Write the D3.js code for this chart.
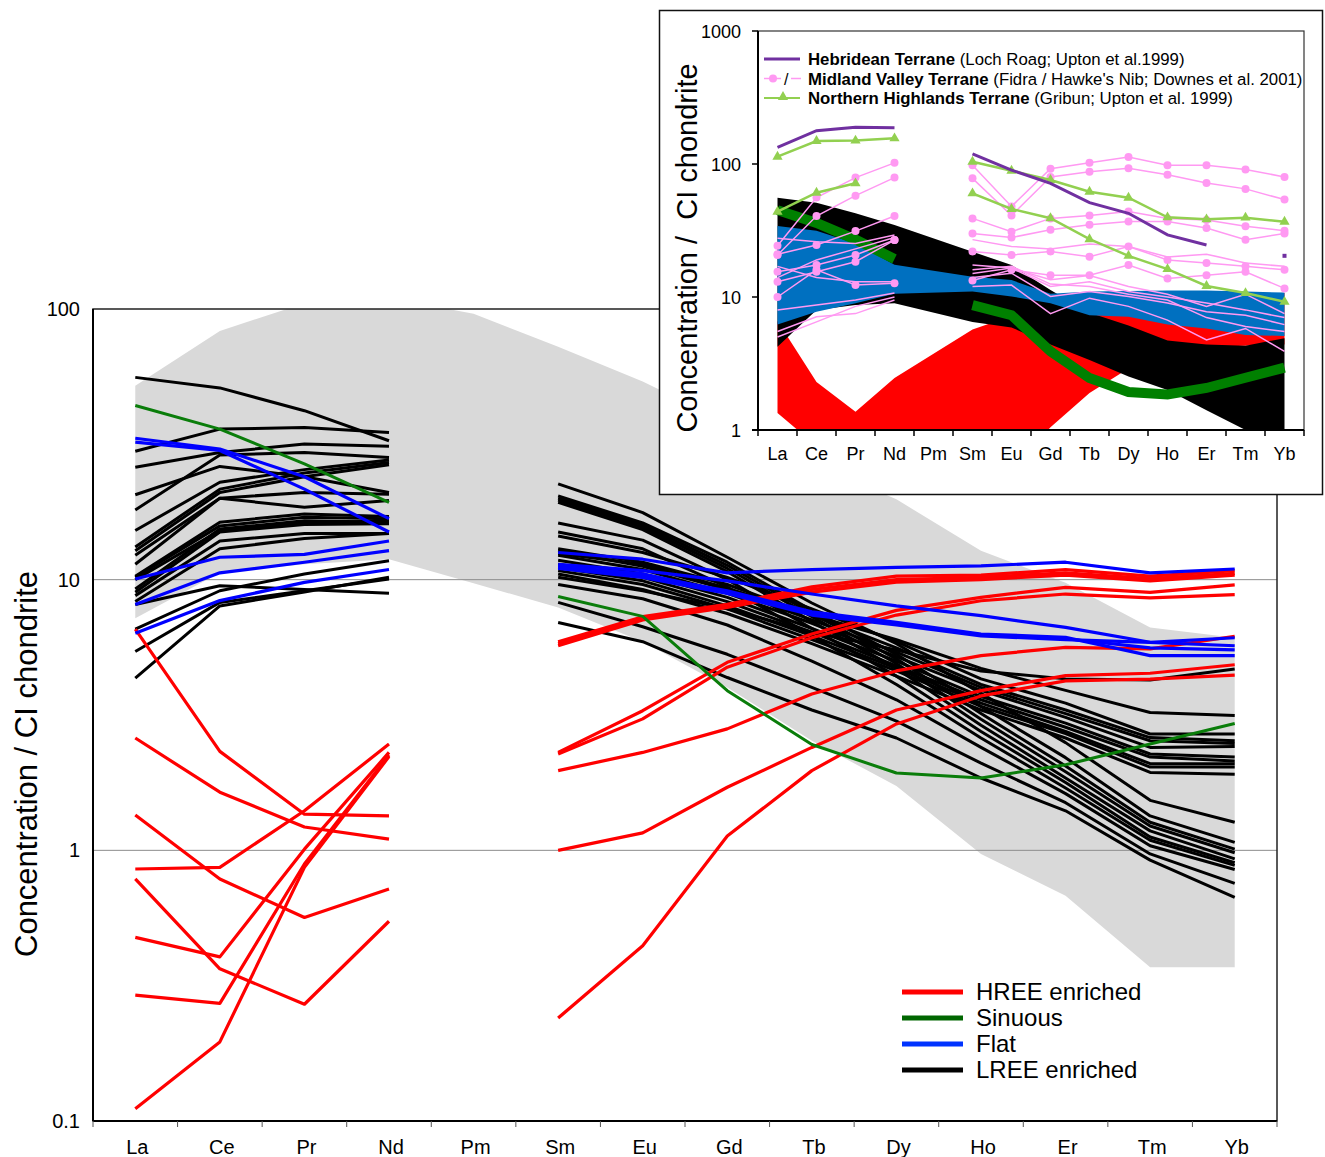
<!DOCTYPE html>
<html>
<head>
<meta charset="utf-8">
<script src="https://d3js.org/d3.v7.min.js"></script>
<style>
  body { margin: 0; background: #fff; }
  svg { font-family: "Liberation Sans", Arial, sans-serif; }
</style>
</head>
<body>
<script>
var width = 1325, height = 1157;

var elements = ["La","Ce","Pr","Nd","Pm","Sm","Eu","Gd","Tb","Dy","Ho","Er","Tm","Yb"];
var yTicks = [0.1, 1, 10, 100];
var insetTicks = [1, 10, 100, 1000];

// grey literature field behind the main plot
var fieldUpper = [52, 83, 105, 110, 96, 72.6, 54, 38, 27, 19.8, 12.8, 9.75, 6.65, 6.1];
var fieldLower = [7.2, 10.6, 11.4, 11.9, 9.7, 7.9, 5.9, 4.0, 2.54, 1.73, 0.97, 0.68, 0.37, 0.37];

// main chart series, one value per element, null at Pm
var hreeSeries = [
  [6.57, 2.32, 1.36, 1.34, null, 5.9, 7.3, 8.1, 9.4, 10.3, 10.4, 10.9, 10.3, 10.8],
  [2.60, 1.64, 1.22, 1.10, null, 5.8, 7.2, 8.0, 9.2, 10.0, 10.2, 10.6, 10.1, 10.55],
  [1.35, 0.784, 0.565, 0.72, null, 5.7, 7.1, 7.9, 9.0, 9.8, 10.0, 10.4, 9.9, 10.4],
  [0.853, 0.865, 1.4, 2.47, null, 2.30, 3.28, 4.95, 6.3, 7.7, 8.6, 9.37, 8.98, 9.56],
  [0.784, 0.365, 0.270, 0.547, null, 2.27, 3.06, 4.75, 6.1, 7.4, 8.36, 8.85, 8.56, 8.8],
  [0.477, 0.404, 1.01, 2.30, null, 1.97, 2.30, 2.81, 3.78, 4.6, 5.24, 5.62, 5.55, 6.18],
  [0.292, 0.272, 0.89, 2.25, null, 1.0, 1.16, 1.71, 2.40, 3.3, 3.89, 4.42, 4.51, 4.85],
  [0.111, 0.196, 0.865, 2.22, null, 0.24, 0.444, 1.13, 1.97, 2.93, 3.72, 4.23, 4.29, 4.44]
];
var sinuousSeries = [
  [44, 36, 26.8, 19.3, null, 8.67, 7.32, 3.89, 2.46, 1.93, 1.85, 2.07, 2.47, 2.94]
];
var flatSeries = [
  [33.3, 30.4, 24.0, 16.8, null, 12.6, 11.9, 10.6, 10.9, 11.1, 11.25, 11.6, 10.6, 10.95],
  [32.2, 30.0, 21.6, 15.0, null, 11.4, 10.8, 9.9, 8.85, 8.0, 7.36, 6.66, 5.87, 5.7],
  [10.06, 12.1, 12.4, 13.9, null, 11.1, 10.35, 9.1, 7.6, 6.95, 6.3, 6.12, 5.24, 5.24],
  [8.09, 10.6, 11.6, 12.8, null, 11.0, 10.2, 8.9, 7.4, 6.8, 6.2, 6.0, 5.87, 6.1],
  [6.34, 8.37, 9.77, 10.9, null, 11.2, 10.5, 9.0, 7.5, 6.9, 6.25, 6.05, 5.6, 5.5]
];
var lreeSeries = [
  [55.9, 51.1, 42.1, 32.6, null, 22.6, 17.7, 12.1, 8.2, 5.8, 3.8, 2.5, 1.53, 1.27],
  [29.8, 36.0, 36.5, 35.0, null, 20.4, 16.2, 11.6, 7.7, 5.3, 3.4, 2.2, 1.34, 1.07],
  [26.0, 29.5, 31.7, 31.1, null, 20.0, 15.9, 11.3, 7.5, 5.1, 3.2, 2.05, 1.27, 1.01],
  [20.6, 26.2, 24.0, 21.0, null, 19.7, 15.6, 11.0, 7.3, 4.9, 3.05, 1.95, 1.23, 0.98],
  [18.1, 28.9, 29.5, 28.3, null, 19.3, 15.3, 10.7, 7.0, 4.7, 2.9, 1.85, 1.18, 0.93],
  [15.2, 22.9, 25.5, 27.7, null, 16.2, 14.0, 10.0, 6.6, 4.4, 2.75, 1.78, 1.12, 0.90],
  [13.2, 21.6, 24.8, 27.1, null, 15.0, 13.0, 9.4, 6.2, 4.1, 2.6, 1.7, 1.09, 0.88],
  [12.8, 21.0, 24.0, 26.6, null, 9.6, 8.5, 6.8, 5.0, 3.6, 2.4, 1.62, 1.04, 0.85],
  [12.3, 20.0, 18.5, 19.6, null, 8.24, 6.7, 5.3, 4.0, 3.0, 2.1, 1.5, 0.97, 0.755],
  [11.4, 20.0, 21.0, 20.7, null, 6.95, 5.9, 4.35, 3.3, 2.6, 1.85, 1.40, 0.92, 0.67],
  [10.3, 16.3, 17.5, 17.1, null, 10.2, 9.1, 7.8, 6.4, 5.5, 4.6, 4.3, 4.26, 4.68],
  [10.2, 15.8, 17.0, 16.8, null, 12.5, 11.4, 9.3, 7.4, 6.0, 4.7, 3.9, 3.23, 3.15],
  [9.24, 15.4, 16.5, 16.3, null, 14.5, 12.6, 10.2, 7.8, 5.9, 4.3, 3.5, 2.69, 2.69],
  [8.98, 15.0, 16.0, 16.1, null, 13.0, 11.6, 9.6, 7.4, 5.6, 4.1, 3.3, 2.61, 2.54],
  [8.73, 13.9, 14.8, 14.8, null, 12.8, 11.2, 9.2, 7.1, 5.4, 4.0, 3.2, 2.54, 2.48],
  [8.3, 13.0, 14.2, 14.8, null, 12.3, 10.9, 8.9, 6.9, 5.2, 3.9, 3.1, 2.40, 2.42],
  [8.09, 9.5, 9.2, 8.9, null, 11.8, 10.5, 8.6, 6.6, 5.0, 3.7, 2.95, 2.27, 2.21],
  [6.57, 9.1, 10.5, 11.75, null, 11.4, 10.2, 8.3, 6.4, 4.8, 3.6, 2.85, 2.21, 2.14],
  [5.43, 8.24, 9.1, 10.06, null, 11.1, 9.9, 8.0, 6.2, 4.7, 3.5, 2.75, 2.09, 2.09],
  [4.33, 8.0, 9.0, 10.2, null, 10.8, 9.6, 7.8, 6.0, 4.6, 3.4, 2.7, 2.03, 2.03],
  [10.0, 15.2, 16.2, 16.5, null, 10.5, 9.2, 7.5, 5.8, 4.4, 3.3, 2.6, 1.94, 1.91]
];

var legendLabels = ["HREE enriched", "Sinuous", "Flat", "LREE enriched"];
var legendColors = ["#ff0000", "#006600", "#0033ff", "#000000"];

// inset: group ranges
var insetRedUpper   = [6.6, 2.3, 1.37, 2.46, null, 5.7, 7.2, 8.1, 9.5, 10.5, 10.5, 11.0, 10.3, 10.7];
var insetRedLower   = [1.34, 0.76, 0.5, 0.5, null, 0.5, 0.5, 1.05, 1.9, 2.9, 3.7, 4.2, 4.3, 4.4];
var insetBlackUpper = [55.8, 51.2, 42.6, 34.8, null, 21.9, 17.4, 11.3, 7.6, 6.1, 4.7, 4.4, 4.3, 4.9];
var insetBlackLower = [4.23, 8.0, 8.7, 8.96, null, 6.5, 5.9, 4.4, 3.36, 2.52, 2.0, 1.41, 1.0, 0.7];
var insetBlueUpper  = [34.2, 31.5, 25.3, 17.5, null, 14.2, 13.4, 10.6, 11.0, 11.1, 11.2, 11.2, 11.0, 10.8];
var insetBlueLower  = [6.2, 7.75, 8.96, 10.6, null, 11.0, 10.1, 8.96, 7.3, 7.1, 6.2, 5.8, 5.17, 5.1];
var insetGreenBand  = [45, 36, 27, 19.3, null, 8.7, 7.3, 3.9, 2.46, 1.93, 1.85, 2.07, 2.47, 2.94];

// inset: terrane data
var hebridean = [133.6, 178, 189, 187, null, 119, 90, 71.6, 51.2, 42.6, 29.3, 24.6, null, 20.4];
var northernHighlands = [
  [113.5, 149, 150, 156, null, 104, 89, 75.8, 61.9, 55.8, 39.7, 38.4, 39.5, 36.8],
  [43.8, 60.8, 71.6, null, null, 60.2, 45.9, 39.1, 27.2, 20.4, 16.2, 12.1, 10.7, 9.2]
];
var midlandMarked = [
  [24.3, 56, 79, 102, null, 98, 48, 92, 102, 113, 98, 98, 91, 80],
  [20.7, 40.6, 57.8, 79, null, 78, 41, 80, 87.5, 93, 83, 72, 65, 54],
  [21, 24.6, 31.3, 40.6, null, 39, 31, 39, 41, 44, 39, 38, 34, 31.5],
  [15.5, 17.4, 20.7, 26.8, null, 30, 28, 32, 35, 37, 37, 33, 27, 30],
  [10, 16, 12.3, 12.7, null, 13.3, 16, 14.6, 14.6, 17.4, 13.8, 14.6, 15.5, 11.6],
  [13, 15.5, 18.4, 26.8, null, 22, 20.7, 22, 20.1, 24, 19, 18, 17, 16]
];
var midlandPlain = [
  [27.6, 26, 25.3, 29.3, null, 27, 24, 23, 25, 24, 20, 21, 18, 17],
  [8, 8.7, 9.5, 10.7, null, 14, 15.1, 10.1, 11, 10.1, 9, 7.75, 7.3, 6.2],
  [5.5, 7.1, 7.5, 9.5, null, 12, 12.3, 7.5, 9.8, 8.5, 6.7, 4.75, 5.8, 3.9],
  [5.0, 6.5, 8.5, 10, null, 15, 16.5, 12, 13, 11, 10, 9, 8, 7],
  [17, 14, 13, 13, null, 17.4, 16.5, 13.5, 14.5, 12, 10.5, 8.5, 10.5, 7.5],
  [14, 19, 23, 28, null, 16, 17, 12.5, 12, 10.5, 9.5, 7, 6, 5.5]
];

var svg = d3.select("body").append("svg")
    .attr("width", width)
    .attr("height", height);

// ---------- main chart ----------
var pLeft = 93, pRight = 1277, pTop = 309, pBottom = 1121;

var x = d3.scaleBand().domain(elements).range([pLeft, pRight]);
var cx = function(i) { return x(elements[i]) + x.bandwidth() / 2; };
var y = d3.scaleLog().domain([0.1, 100]).range([pBottom, pTop]);

svg.append("clipPath").attr("id", "mainClip")
  .append("rect").attr("x", pLeft).attr("y", pTop)
  .attr("width", pRight - pLeft).attr("height", pBottom - pTop);

var main = svg.append("g").attr("clip-path", "url(#mainClip)");

main.append("path")
    .datum(elements.map(function(e, i) { return i; }))
    .attr("fill", "#d9d9d9")
    .attr("d", d3.area()
      .x(function(i) { return cx(i); })
      .y0(function(i) { return y(fieldLower[i]); })
      .y1(function(i) { return y(fieldUpper[i]); }));

// grid lines at 1 and 10
main.selectAll("line.grid")
    .data([1, 10])
  .enter().append("line")
    .attr("x1", pLeft).attr("x2", pRight)
    .attr("y1", function(d) { return y(d); })
    .attr("y2", function(d) { return y(d); })
    .attr("stroke", "#8c8c8c").attr("stroke-width", 1);

var line = d3.line()
    .defined(function(d) { return d != null; })
    .x(function(d, i) { return cx(i); })
    .y(function(d) { return y(d); });

function drawGroup(g, data, color, w) {
  g.append("g").selectAll("path")
      .data(data)
    .enter().append("path")
      .attr("d", line)
      .attr("fill", "none")
      .attr("stroke", color)
      .attr("stroke-width", w)
      .attr("stroke-linejoin", "round");
}

drawGroup(main, lreeSeries, "#000", 3);
drawGroup(main, hreeSeries, "#ff0000", 3.2);
drawGroup(main, flatSeries, "#0000ff", 3.2);
drawGroup(main, sinuousSeries, "#0a7d0a", 3);

// frame and axes
svg.append("rect")
    .attr("x", pLeft).attr("y", pTop)
    .attr("width", pRight - pLeft).attr("height", pBottom - pTop)
    .attr("fill", "none").attr("stroke", "#222").attr("stroke-width", 1.5);
svg.append("line").attr("x1", pLeft).attr("x2", pLeft).attr("y1", pTop).attr("y2", pBottom)
    .attr("stroke", "#000").attr("stroke-width", 2);
svg.append("line").attr("x1", pLeft).attr("x2", pRight).attr("y1", pBottom).attr("y2", pBottom)
    .attr("stroke", "#000").attr("stroke-width", 2);

svg.append("g").selectAll("line")
    .data(elements.concat(["end"]))
  .enter().append("line")
    .attr("x1", function(d, i) { return pLeft + i * x.step(); })
    .attr("x2", function(d, i) { return pLeft + i * x.step(); })
    .attr("y1", pBottom).attr("y2", pBottom + 6)
    .attr("stroke", "#555").attr("stroke-width", 1);

svg.append("g").selectAll("text")
    .data(elements)
  .enter().append("text")
    .attr("x", function(d, i) { return cx(i) + 2; })
    .attr("y", 1154)
    .attr("text-anchor", "middle")
    .attr("font-size", 20)
    .text(function(d) { return d; });

svg.append("g").selectAll("text")
    .data(yTicks)
  .enter().append("text")
    .attr("x", 80)
    .attr("y", function(d) { return y(d) + 7; })
    .attr("text-anchor", "end")
    .attr("font-size", 20)
    .text(function(d) { return d; });

svg.append("text")
    .attr("transform", "translate(37,764) rotate(-90)")
    .attr("text-anchor", "middle")
    .attr("font-size", 31)
    .text("Concentration / CI chondrite");

// legend
var legend = svg.append("g").selectAll("g")
    .data(legendLabels)
  .enter().append("g")
    .attr("transform", function(d, i) { return "translate(0," + (992 + i * 26) + ")"; });
legend.append("line")
    .attr("x1", 902).attr("x2", 963)
    .attr("stroke", function(d, i) { return legendColors[i]; })
    .attr("stroke-width", 5);
legend.append("text")
    .attr("x", 976).attr("y", 8)
    .attr("font-size", 24)
    .text(function(d) { return d; });

// ---------- inset ----------
var iLeft = 758, iRight = 1304, iTop = 31, iBottom = 430;

svg.append("rect")
    .attr("x", 659.5).attr("y", 10.5)
    .attr("width", 663).attr("height", 484)
    .attr("fill", "#fff").attr("stroke", "#111").attr("stroke-width", 1.5);

var ix = d3.scaleBand().domain(elements).range([iLeft, iRight]);
var icx = function(i) { return ix(elements[i]) + ix.bandwidth() / 2; };
var iy = d3.scaleLog().domain([1, 1000]).range([iBottom, iTop]);

svg.append("clipPath").attr("id", "insetClip")
  .append("rect").attr("x", iLeft).attr("y", iTop)
  .attr("width", iRight - iLeft).attr("height", iBottom - iTop);

var inset = svg.append("g").attr("clip-path", "url(#insetClip)");

function band(upper, lower, color) {
  var idx = elements.map(function(e, i) { return i; })
      .filter(function(i) { return upper[i] != null; });
  inset.append("path")
      .datum(idx)
      .attr("fill", color)
      .attr("d", d3.area()
        .x(function(i) { return icx(i); })
        .y0(function(i) { return iy(lower[i]); })
        .y1(function(i) { return iy(upper[i]); }));
}
band(insetRedUpper, insetRedLower, "#ff0000");
band(insetBlackUpper, insetBlackLower, "#000000");
band(insetBlueUpper, insetBlueLower, "#0070c0");

var iline = d3.line()
    .defined(function(d) { return d != null; })
    .x(function(d, i) { return icx(i); })
    .y(function(d) { return iy(d); });

inset.append("path")
    .datum(insetGreenBand)
    .attr("d", iline)
    .attr("fill", "none")
    .attr("stroke", "#008000")
    .attr("stroke-width", 10);

var pink = "#ff99f2";
inset.append("g").selectAll("path")
    .data(midlandPlain)
  .enter().append("path")
    .attr("d", iline)
    .attr("fill", "none").attr("stroke", pink).attr("stroke-width", 1.5);
inset.append("g").selectAll("path")
    .data(midlandMarked)
  .enter().append("path")
    .attr("d", iline)
    .attr("fill", "none").attr("stroke", pink).attr("stroke-width", 1.5);
midlandMarked.forEach(function(s) {
  inset.append("g").selectAll("circle")
      .data(s.map(function(v, i) { return {v: v, i: i}; }).filter(function(d) { return d.v != null; }))
    .enter().append("circle")
      .attr("cx", function(d) { return icx(d.i); })
      .attr("cy", function(d) { return iy(d.v); })
      .attr("r", 4)
      .attr("fill", pink);
});

var lightGreen = "#92d050";
northernHighlands.forEach(function(s) {
  inset.append("path")
      .datum(s)
      .attr("d", iline)
      .attr("fill", "none").attr("stroke", lightGreen).attr("stroke-width", 2.5);
  inset.append("g").selectAll("path")
      .data(s.map(function(v, i) { return {v: v, i: i}; }).filter(function(d) { return d.v != null; }))
    .enter().append("path")
      .attr("transform", function(d) { return "translate(" + icx(d.i) + "," + iy(d.v) + ")"; })
      .attr("d", d3.symbol().type(d3.symbolTriangle).size(45))
      .attr("fill", lightGreen);
});

var purple = "#7030a0";
inset.append("path")
    .datum(hebridean)
    .attr("d", iline)
    .attr("fill", "none").attr("stroke", purple).attr("stroke-width", 3);
// lone Yb point (no Tm value to join)
inset.append("rect")
    .attr("x", icx(13) - 2).attr("y", iy(hebridean[13]) - 2)
    .attr("width", 4).attr("height", 4)
    .attr("fill", purple);

// inset frame and axes
svg.append("rect")
    .attr("x", iLeft).attr("y", iTop)
    .attr("width", iRight - iLeft).attr("height", iBottom - iTop)
    .attr("fill", "none").attr("stroke", "#333").attr("stroke-width", 1.2);
svg.append("line").attr("x1", iLeft).attr("x2", iLeft).attr("y1", iTop).attr("y2", iBottom)
    .attr("stroke", "#000").attr("stroke-width", 2);
svg.append("line").attr("x1", iLeft - 6).attr("x2", iRight).attr("y1", iBottom).attr("y2", iBottom)
    .attr("stroke", "#000").attr("stroke-width", 2);

svg.append("g").selectAll("line")
    .data(insetTicks)
  .enter().append("line")
    .attr("x1", iLeft - 6).attr("x2", iLeft)
    .attr("y1", function(d) { return iy(d); })
    .attr("y2", function(d) { return iy(d); })
    .attr("stroke", "#000").attr("stroke-width", 1.5);

svg.append("g").selectAll("line")
    .data(elements.concat(["end"]))
  .enter().append("line")
    .attr("x1", function(d, i) { return iLeft + i * ix.step(); })
    .attr("x2", function(d, i) { return iLeft + i * ix.step(); })
    .attr("y1", iBottom).attr("y2", iBottom + 6)
    .attr("stroke", "#000").attr("stroke-width", 1.5);

svg.append("g").selectAll("text")
    .data(elements)
  .enter().append("text")
    .attr("x", function(d, i) { return icx(i); })
    .attr("y", 460)
    .attr("text-anchor", "middle")
    .attr("font-size", 18)
    .text(function(d) { return d; });

svg.append("g").selectAll("text")
    .data(insetTicks)
  .enter().append("text")
    .attr("x", 741)
    .attr("y", function(d) { return iy(d) + 6.5; })
    .attr("text-anchor", "end")
    .attr("font-size", 18)
    .text(function(d) { return d; });

svg.append("text")
    .attr("transform", "translate(697,248) rotate(-90)")
    .attr("text-anchor", "middle")
    .attr("font-size", 29)
    .attr("xml:space", "preserve")
    .text("Concentration /  CI chondrite");

// inset legend
var insetLegend = [
  {bold: "Hebridean Terrane", rest: " (Loch Roag; Upton et al.1999)"},
  {bold: "Midland Valley Terrane", rest: " (Fidra / Hawke's Nib; Downes et al. 2001)"},
  {bold: "Northern Highlands Terrane", rest: " (Gribun; Upton et al. 1999)"}
];
insetLegend.forEach(function(d, i) {
  var t = svg.append("text")
      .attr("x", 808).attr("y", 65 + i * 19.7)
      .attr("font-size", 16.8);
  t.append("tspan").attr("font-weight", "bold").text(d.bold);
  t.append("tspan").text(d.rest);
});
svg.append("line").attr("x1", 764).attr("x2", 800).attr("y1", 59).attr("y2", 59)
    .attr("stroke", purple).attr("stroke-width", 3);
svg.append("line").attr("x1", 764).attr("x2", 781).attr("y1", 78.5).attr("y2", 78.5)
    .attr("stroke", pink).attr("stroke-width", 1.5);
svg.append("circle").attr("cx", 773).attr("cy", 78.5).attr("r", 4).attr("fill", pink);
svg.append("text").attr("x", 784).attr("y", 84.5).attr("font-size", 16).text("/");
svg.append("line").attr("x1", 791).attr("x2", 801).attr("y1", 78.5).attr("y2", 78.5)
    .attr("stroke", pink).attr("stroke-width", 1.5);
svg.append("line").attr("x1", 764).attr("x2", 800).attr("y1", 98).attr("y2", 98)
    .attr("stroke", lightGreen).attr("stroke-width", 2);
svg.append("path")
    .attr("transform", "translate(783,97)")
    .attr("d", d3.symbol().type(d3.symbolTriangle).size(45))
    .attr("fill", lightGreen);
</script>
</body>
</html>
